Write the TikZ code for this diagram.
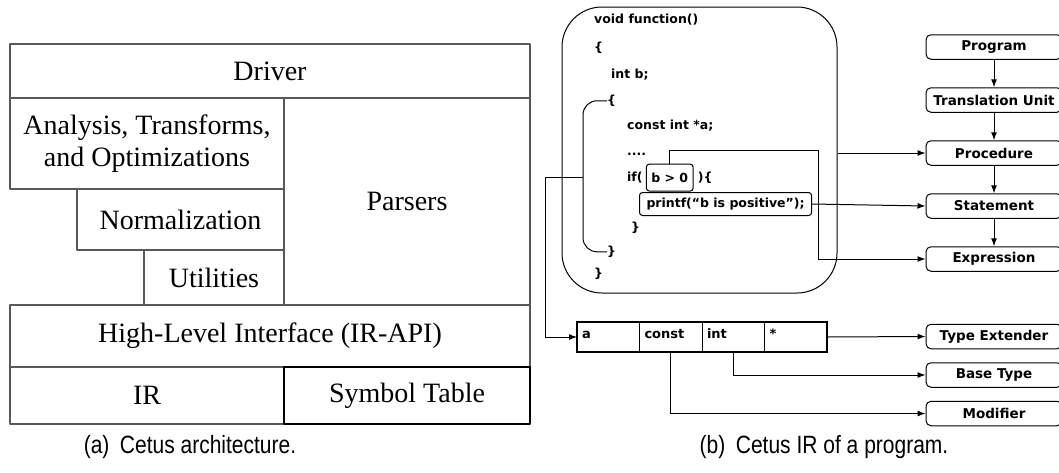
\documentclass[tikz,border=0pt]{standalone}
\usepackage{fontspec}
\usepackage{graphicx}
\setmainfont{Liberation Serif}
\newfontfamily\capfont{Liberation Sans}
\newfontfamily\irfont{DejaVu Sans}
\usetikzlibrary{arrows.meta,calc,positioning}
\usepackage{tkz-euclide}
\definecolor{LayerClr}{rgb}{0.35,0.35,0.35}
\newcommand{\captext}[1]{\scalebox{0.84}[1]{#1}}

\tikzset{
  layer/.style={font=\fontsize{28}{32}\selectfont,align=center},
  code/.style={font=\irfont\fontsize{12.5}{14}\selectfont\bfseries,inner sep=0pt,anchor=base west},
  codebox/.style={draw,line width=1pt,rounded corners=3pt,inner ysep=0pt,
    font=\irfont\fontsize{12.5}{14}\selectfont\bfseries},
  irbox/.style={draw,line width=1pt,rounded corners=5pt,minimum width=136pt,minimum height=24.5pt,
    inner sep=0pt,font=\irfont\fontsize{13.5}{15}\selectfont\bfseries},
  cell/.style={draw,line width=1pt,outer sep=0pt,minimum width=62.5pt,minimum height=30pt,
    text width=52.5pt,inner sep=5pt,align=left,text height=9.5pt,text depth=6pt,
    font=\irfont\fontsize{13}{14}\selectfont\bfseries},
  link/.style={line width=1pt,-{Latex[length=8pt,width=6pt]}},
  caption/.style={font=\capfont\fontsize{25}{28}\selectfont}
}

\begin{document}
\begin{tikzpicture}[x=1pt,y=-1pt]
\useasboundingbox (0,0) rectangle (1059,472);
\tkzSetUpLine[line width=1.3pt,color=LayerClr]

% (a) layers
\tkzDefPoints{10/44/T1,530/44/T2,10/98/A1,284/98/P1,530/98/T3,
  10/189/A2,77/189/N1,284/189/P2,77/250/N2,144/250/U1,284/250/P3,
  10/305/H1,144/305/U2,284/305/P4,530/305/H2,
  10/367/I1,284/367/S1,530/367/H3,10/424/I2,284/424/S2,530/424/S3}

\tkzDrawPolygon(T1,T2,T3,A1)
\tkzDrawPolygon(A1,P1,P2,A2)
\tkzDrawPolygon(N1,P2,P3,N2)
\tkzDrawPolygon(U1,P3,P4,U2)
\tkzDrawPolygon(P1,T3,H2,P4)
\tkzDrawPolygon(H1,H2,H3,I1)
\tkzDrawPolygon(I1,S1,S2,I2)
\tkzDrawPolygon[color=black](S1,H3,S3,S2)

\node[layer] (driver)   at ($(T1)!.5!(T3)$) {Driver};
\node[layer] (analysis) at ($(A1)!.5!(P2)$) {Analysis, Transforms,\\and Optimizations};
\node[layer] (norm)     at ($(N1)!.5!(P3)$) {Normalization};
\node[layer] (util)     at ($(U1)!.5!(P4)$) {Utilities};
\node[layer] (parsers)  at ($(P1)!.5!(H2)$) {Parsers};
\node[layer] (hlapi)    at ($(H1)!.5!(H3)$) {High-Level Interface (IR-API)};
\node[layer] (ir)       at ($(I1)!.5!(S2)$) {IR};
\node[layer] (symtab)   at ($(S1)!.5!(S3)$) {Symbol Table};

\node[caption] (capa) at (190,447) {\captext{(a)\hspace{0.5em}Cetus architecture.}};

% (b) IR of a program
\node[draw,line width=1pt,rounded corners=40pt,minimum width=275pt,minimum height=286pt] (func) at (699.5,150) {};

\node[code] (fhead)  at (594,23.5)  {void function()};
\node[code] (fopen)  at (594,51.5)  {\{};
\node[code] (declb)  at (611,78.5)  {int b;};
\node[code] (bopen)  at (607,104.5) {\{};
\node[code] (decla)  at (627,129.5) {const int *a;};
\node[code] (dots)   at (627,155)   {....};
\node[code] (ifkw)   at (627,181.5) {if(};
\node[codebox,inner xsep=5pt,minimum height=27pt,right=3pt of ifkw] (cond) {b > 0};
\node[code,anchor=west,right=4pt of cond] (ifend) {)\{};
\node[codebox,inner xsep=7pt,minimum height=23pt,anchor=west] (stmt) at (639,204) {printf(“b is positive”);};
\node[code] (ifclose) at (631,231.5) {\}};
\node[code] (bclose)  at (607,255.5) {\}};
\node[code] (fclose)  at (594,277.5) {\}};

\node[irbox] (prog) at (994,47) {Program};
\node[irbox,below=27.5pt of prog]  (tunit) {Translation Unit};
\node[irbox,below=27.5pt of tunit] (proc)  {Procedure};
\node[irbox,below=27.5pt of proc]  (stmtbox) {Statement};
\node[irbox,below=27.5pt of stmtbox] (expr) {Expression};

\draw[link] (prog) -- (tunit);
\draw[link] (tunit) -- (proc);
\draw[link] (proc) -- (stmtbox);
\draw[link] (stmtbox) -- (expr);

% symbol table entry
\node[cell,anchor=west] (ca) at (577,337) {a};
\node[cell,right=0pt of ca] (cb) {const};
\node[cell,right=0pt of cb] (cc) {int};
\node[cell,right=0pt of cc] (cd) {*};
\draw[line width=2pt] (ca.north west) rectangle (cd.south east);

\node[irbox] (tyext) at (994,336.5) {Type Extender};
\node[irbox,below=13pt of tyext] (btype) {Base Type};
\node[irbox,below=13pt of btype] (modif) {Modifier};

\coordinate (brk) at (583,177);
\coordinate (bend) at (545,177);
\coordinate (ebend) at (818,150);

\draw[line width=1pt,rounded corners=14pt] (bopen.west) -| (brk) |- (bclose.west);
\draw[link] (brk) -- (bend) |- (ca.west);
\draw[link] (func.east |- proc.west) -- (proc.west);
\draw[link] (stmt.east) -- (stmtbox.west);
\draw[link] (cond.north) |- (ebend) |- (expr.west);
\draw[link] (cd.east) -- (tyext.west);
\draw[link] (cc.south) |- (btype.west);
\draw[link] (cb.south) |- (modif.west);

\node[caption] (capb) at (824,447) {\captext{(b)\hspace{0.5em}Cetus IR of a program.}};
\end{tikzpicture}
\end{document}
